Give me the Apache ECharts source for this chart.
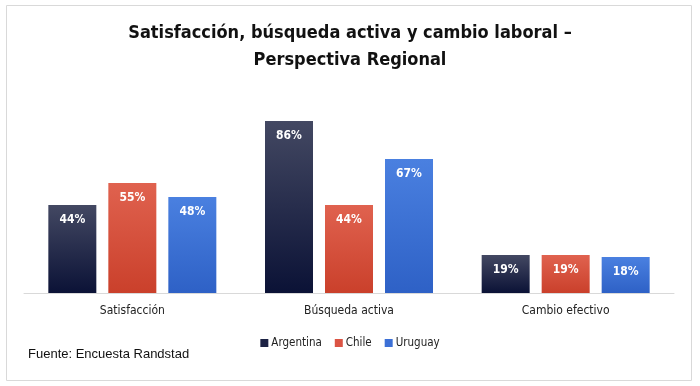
<!DOCTYPE html>
<html><head><meta charset="utf-8">
<script src="https://cdn.jsdelivr.net/npm/echarts@6/dist/echarts.min.js"></script>
<style>html,body{margin:0;padding:0;background:#fff}#c{width:700px;height:386px}</style>
</head><body><div id="c"></div>
<script>
const categories = ['Satisfacción', 'Búsqueda activa', 'Cambio efectivo'];
const argentina = [44, 86, 19];
const chile = [55, 44, 19];
const uruguay = [48, 67, 18];
const seriesNames = ['Argentina', 'Chile', 'Uruguay'];
const titleText = 'Satisfacción, búsqueda activa y cambio laboral –\nPerspectiva Regional';
const sourceText = 'Fuente: Encuesta Randstad';

const chart = echarts.init(document.getElementById('c'), null, {renderer: 'canvas'});
function grad(top, bottom) {
  return new echarts.graphic.LinearGradient(0, 0, 0, 1, [{offset: 0, color: top}, {offset: 1, color: bottom}]);
}
const FF = 'Liberation Sans Narrow, DejaVu Sans Condensed, sans-serif';
const colors = [grad('#434862', '#0b1236'), grad('#e0624f', '#ca402b'), grad('#4a80e0', '#2e61c6')];
const legendColors = ['#1c2244', '#db5444', '#3c70d6'];
const label = {show: true, position: 'insideTop', distance: 9, color: '#fff', fontSize: 12, fontWeight: 'bold', fontFamily: FF, formatter: p => p.value + '%'};
const dataSets = [argentina, chile, uruguay];
chart.setOption({
  animation: false,
  title: {text: titleText, left: 'center', top: 15, textStyle: {fontSize: 18, fontWeight: 'bold', color: '#111', lineHeight: 27, fontFamily: FF}},
  grid: {left: 24, width: 650, top: 93, height: 200, containLabel: false},
  legend: {data: seriesNames.map((n, i) => ({name: n, itemStyle: {color: legendColors[i]}})), left: 'center', top: 332, itemWidth: 8, itemHeight: 8, itemGap: 13, icon: 'rect', textStyle: {fontSize: 11.5, color: '#222', fontFamily: FF, padding: [0, 0, 0, -2]}},
  xAxis: {type: 'category', data: categories, axisTick: {show: false}, axisLine: {lineStyle: {color: '#d9d9d9', width: 1}}, axisLabel: {fontSize: 12, color: '#222', margin: 12, fontFamily: FF}},
  yAxis: {type: 'value', min: 0, max: 100, show: false, splitLine: {show: false}},
  series: seriesNames.map((n, i) => ({name: n, type: 'bar', data: dataSets[i], barWidth: 48, barGap: '25%', itemStyle: {color: colors[i]}, label: label})),
  graphic: [
    {type: 'rect', shape: {x: 6.5, y: 5.5, width: 685, height: 375}, style: {fill: 'none', stroke: '#d9d9d9', lineWidth: 1}, silent: true, z: -1},
    {type: 'text', left: 28, top: 348, style: {text: sourceText, fontSize: 13, fill: '#111', fontFamily: 'Liberation Sans, Arial, sans-serif'}}
  ]
});
</script></body></html>
